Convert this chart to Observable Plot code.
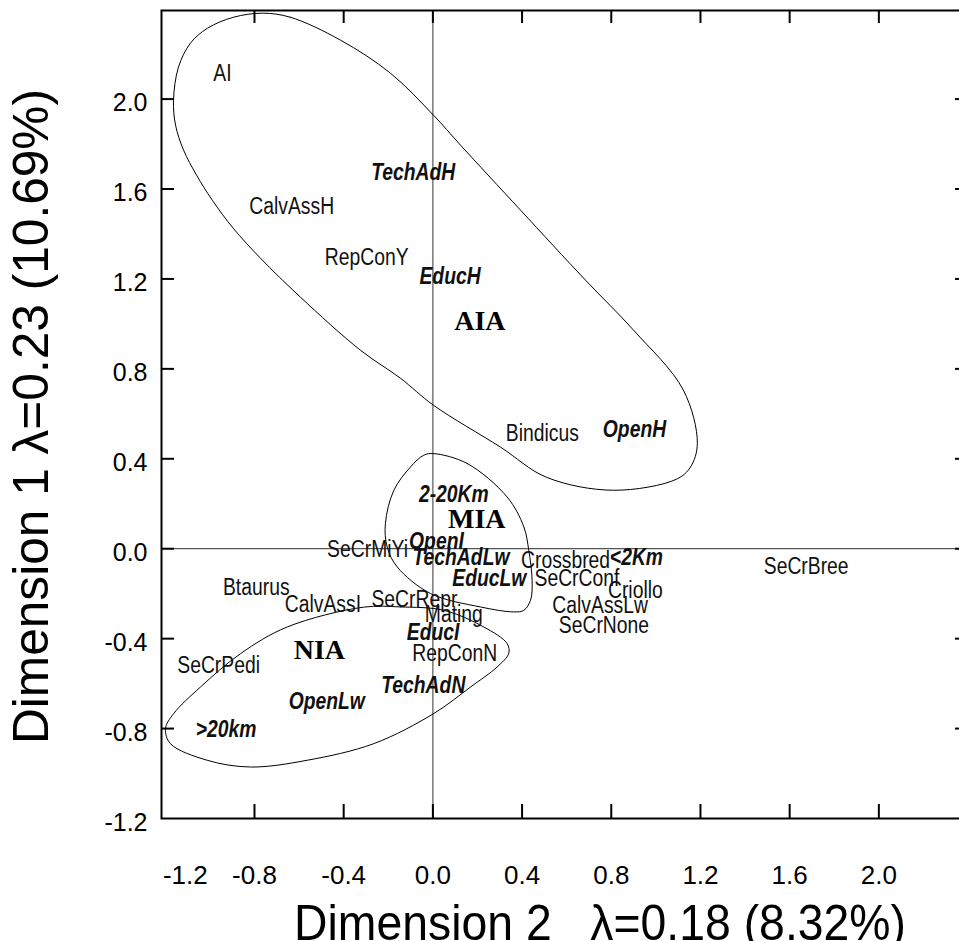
<!DOCTYPE html>
<html><head><meta charset="utf-8">
<script src="https://cdn.jsdelivr.net/npm/d3@7"></script>
<script src="https://cdn.jsdelivr.net/npm/@observablehq/plot@0.6"></script>
<style>body{margin:0;background:#fff}#chart svg{overflow:hidden;display:block}</style>
</head><body><div id="chart"></div>
<script>
// Plain (regular) category labels
const plainNames = ["AI","CalvAssH","RepConY","Bindicus","SeCrMiYi","Crossbred","SeCrConf","Criollo","CalvAssLw","SeCrNone","SeCrRepr","Mating","CalvAssI","RepConN","SeCrPedi","Btaurus","SeCrBree"];
const plainDim2 = [-0.944,-0.633,-0.297,0.491,-0.293,0.595,0.646,0.908,0.750,0.767,-0.083,0.094,-0.493,0.098,-0.961,-0.792,1.674];
const plainDim1 = [2.113,1.523,1.294,0.514,-0.003,-0.055,-0.132,-0.188,-0.255,-0.344,-0.225,-0.295,-0.248,-0.466,-0.522,-0.174,-0.080];

// Italic bold category labels
const italicNames = ["TechAdH","EducH","OpenH","2-20Km","OpenI","TechAdLw","EducLw","<2Km","EducI","TechAdN","OpenLw",">20km"];
const italicDim2 = [-0.088,0.077,0.904,0.094,0.016,0.126,0.253,0.913,0.001,-0.043,-0.476,-0.927];
const italicDim1 = [1.672,1.210,0.529,0.242,0.031,-0.040,-0.132,-0.040,-0.374,-0.607,-0.682,-0.804];

// Group labels
const groupNames = ["AIA","MIA","NIA"];
const groupDim2 = [0.211,0.197,-0.509];
const groupDim1 = [1.014,0.131,-0.451];

// Group outlines (hand-drawn closed curves)
const aiaDim2 = [-0.764,-0.639,-0.414,-0.190,0.003,0.124,0.393,0.684,0.899,1.123,1.186,1.155,1.092,0.810,0.509,0.303,0.003,-0.145,-0.325,-0.594,-0.773,-0.895,-0.989,-1.060,-1.118,-1.154,-1.163,-1.141,-1.087,-1.011,-0.894];
const aiaDim1 = [2.382,2.364,2.262,2.115,1.928,1.795,1.506,1.195,0.973,0.706,0.469,0.363,0.309,0.260,0.318,0.452,0.638,0.758,0.883,1.119,1.292,1.425,1.550,1.662,1.773,1.884,1.995,2.142,2.249,2.315,2.364];
const miaDim2 = [0.004,0.154,0.333,0.408,0.430,0.445,0.438,0.408,0.363,0.213,-0.011,-0.160,-0.205,-0.213,-0.175,-0.100,-0.041];
const miaDim1 = [0.423,0.379,0.230,0.097,-0.007,-0.140,-0.229,-0.274,-0.281,-0.259,-0.199,-0.081,0.008,0.112,0.260,0.364,0.416];
const niaDim2 = [-0.311,-0.145,0.049,0.228,0.333,0.340,0.288,0.169,0.004,-0.265,-0.564,-0.818,-1.012,-1.177,-1.199,-1.162,-1.042,-0.863,-0.653];
const niaDim1 = [-0.260,-0.259,-0.274,-0.348,-0.422,-0.466,-0.526,-0.615,-0.733,-0.867,-0.941,-0.971,-0.941,-0.867,-0.800,-0.733,-0.615,-0.467,-0.348];

// Axis ticks & titles
const xTicks = [-1.2,-0.8,-0.4,0.0,0.4,0.8,1.2,1.6,2.0];
const yTicks = [-1.2,-0.8,-0.4,0.0,0.4,0.8,1.2,1.6,2.0];
const xTitle = "Dimension 2\u00a0\u00a0\u00a0\u03bb=0.18 (8.32%)";
const yTitle = "Dimension 1 \u03bb=0.23 (10.69%)";

const toRows = (names, xs, ys) => names.map((n, i) => ({name: n, dim2: xs[i], dim1: ys[i]}));
const plain = toRows(plainNames, plainDim2, plainDim1);
const italic = toRows(italicNames, italicDim2, italicDim1);
const groups = toRows(groupNames, groupDim2, groupDim1);
const outline = (g, xs, ys) => xs.map((x, i) => ({group: g, dim2: x, dim1: ys[i]}));
const outlines = [...outline("AIA", aiaDim2, aiaDim1), ...outline("MIA", miaDim2, miaDim1), ...outline("NIA", niaDim2, niaDim1)];

const fmt = d => d.toFixed(1);
const sans = "'Liberation Sans', Arial, sans-serif";
const tickSet = xTicks.filter(d => d > -1.2);
const innerY = yTicks.filter(d => d > -1.2);

// frame size in pixels (used only for tick-mark insets)
const W = 959, H = 941, mL = 161, mR = -9, mT = 10, mB = 123;
const frameW = W - mL - mR, frameH = H - mT - mB;

const chart = Plot.plot({
  width: W,
  height: H,
  marginLeft: mL,
  marginRight: mR,
  marginTop: mT,
  marginBottom: mB,
  style: {fontFamily: sans, background: "#fff", color: "#000"},
  x: {domain: [-1.217, 2.402], label: null},
  y: {domain: [-1.2, 2.394], label: null},
  marks: [
    Plot.ruleY([0], {stroke: "#555", strokeWidth: 1.2}),
    Plot.ruleX([0], {stroke: "#555", strokeWidth: 1.2}),
    Plot.line(outlines, {x: "dim2", y: "dim1", z: "group", curve: "catmull-rom-closed", stroke: "#000", strokeWidth: 1}),
    Plot.text(plain, {x: "dim2", y: "dim1", text: "name", fontFamily: sans, fontSize: 23, fill: "#111"}),
    Plot.text(italic, {x: "dim2", y: "dim1", text: "name", fontFamily: sans, fontSize: 23, fontStyle: "italic", fontWeight: "bold", fill: "#111"}),
    Plot.text(groups, {x: "dim2", y: "dim1", text: "name", fontFamily: "'Liberation Serif', serif", fontSize: 28, fontWeight: "bold", fill: "#000"}),
    Plot.frame({stroke: "#000", strokeWidth: 2}),
    // inward tick marks on all four sides
    Plot.ruleX(tickSet, {x: d => d, insetTop: frameH - 14, stroke: "#000", strokeWidth: 2}),
    Plot.ruleX(tickSet, {x: d => d, insetBottom: frameH - 13, stroke: "#000", strokeWidth: 2}),
    Plot.ruleY(innerY, {y: d => d, insetRight: frameW - 13, stroke: "#000", strokeWidth: 2}),
    Plot.ruleY(innerY, {y: d => d, insetLeft: frameW - 13, stroke: "#000", strokeWidth: 2}),
    // tick labels
    Plot.axisX(tickSet, {anchor: "bottom", label: null, tickSize: 0, tickPadding: 47, fontSize: 26, tickFormat: fmt}),
    Plot.axisX([-1.2], {anchor: "bottom", label: null, tickSize: 0, tickPadding: 47, fontSize: 26, dx: 20, tickFormat: fmt}),
    Plot.axisY(yTicks, {anchor: "left", label: null, tickSize: 0, tickPadding: 14, fontSize: 25, dy: 4, tickFormat: fmt}),
    Plot.text([xTitle], {frameAnchor: "bottom", text: d => d, dx: 35, dy: 121, textAnchor: "middle", lineAnchor: "bottom", fontSize: 50}),
    Plot.text([yTitle], {frameAnchor: "left", text: d => d, rotate: -90, dx: -130, dy: 2, textAnchor: "middle", lineAnchor: "middle", fontSize: 50})
  ]
});
document.getElementById("chart").appendChild(chart);

// condensed look for point labels (Arial Narrow style)
const labelSet = new Set([...plainNames, ...italicNames]);
d3.select(chart).selectAll("text").each(function() {
  if (labelSet.has(this.textContent)) {
    const w = this.getComputedTextLength();
    this.setAttribute("textLength", (w * 0.84).toFixed(1));
    this.setAttribute("lengthAdjust", "spacingAndGlyphs");
  }
});
d3.select(chart).selectAll("text").filter(function() { return this.textContent === xTitle; })
  .attr("textLength", 612).attr("lengthAdjust", "spacingAndGlyphs");
d3.select(chart).selectAll("text").filter(function() { return this.textContent === yTitle; })
  .attr("textLength", 655).attr("lengthAdjust", "spacingAndGlyphs");
</script>
</body></html>
